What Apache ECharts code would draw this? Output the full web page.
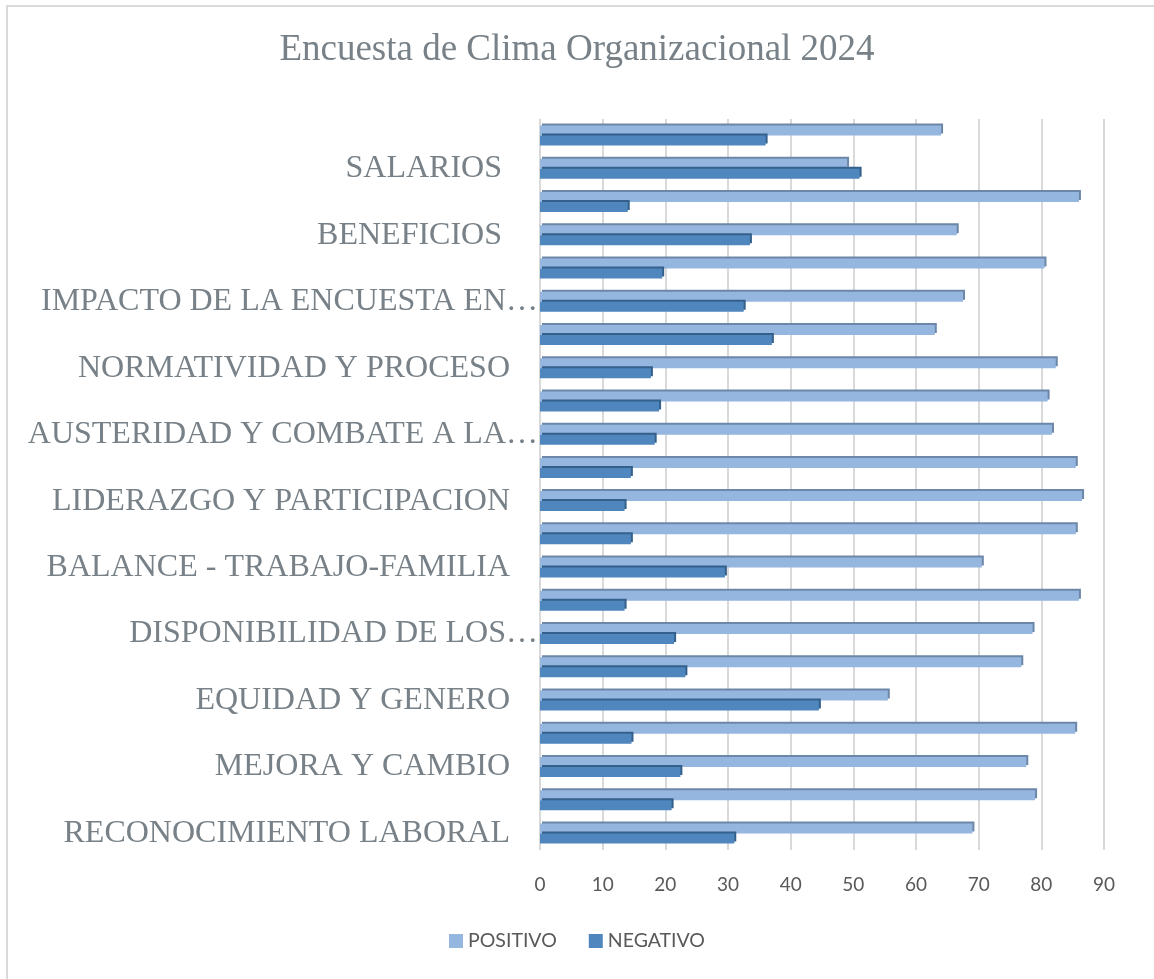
<!DOCTYPE html>
<html>
<head>
    <meta charset="utf-8">
    <title>Encuesta de Clima Organizacional 2024</title>
    <script src="https://cdn.jsdelivr.net/npm/echarts@6/dist/echarts.min.js"></script>
    <style>
        html, body { margin: 0; padding: 0; background: #fff; }
    </style>
</head>
<body>
<div id="main" style="width: 1154px;height:979px;"></div>

<script type="text/javascript">
    // categorias de abajo hacia arriba (solo se ve una de cada dos)
    var categorias = [
        'RECONOCIMIENTO LABORAL',
        'CAPACITACION ESPECIALIZADA Y DESARROLLO',
        'MEJORA Y CAMBIO',
        'CALIDAD DE VIDA LABORAL',
        'EQUIDAD Y GENERO',
        'COMUNICACION',
        'DISPONIBILIDAD DE LOS…',
        'CALIDAD Y ORIENTACION AL USUARIO',
        'BALANCE - TRABAJO-FAMILIA',
        'COLABORACION Y TRABAJO EN EQUIPO',
        'LIDERAZGO Y PARTICIPACION',
        'IDENTIDAD CON LA INSTITUCION Y VALORES',
        'AUSTERIDAD Y COMBATE A LA…',
        'ENFOQUE A RESULTADOS Y PRODUCTIVIDAD',
        'NORMATIVIDAD Y PROCESO',
        'PROFESIONALIZACION',
        'IMPACTO DE LA ENCUESTA EN…',
        'TRABAJO A DISTANCIA',
        'BENEFICIOS ',
        'CONDICIONES DE TRABAJO',
        'SALARIOS ',
        'SATISFACCION GENERAL'
    ];
    var positivo = [69, 79, 77.6, 85.4, 55.5, 76.8, 78.6, 86, 70.5, 85.5, 86.5,
                    85.5, 81.7, 81, 82.3, 63, 67.5, 80.5, 66.5, 86, 49, 64];
    var negativo = [31, 21, 22.4, 14.6, 44.5, 23.2, 21.4, 13.5, 29.5, 14.5, 13.5,
                    14.5, 18.3, 19, 17.7, 37, 32.5, 19.5, 33.5, 14, 51, 36];
    var ticksX = [0, 10, 20, 30, 40, 50, 60, 70, 80, 90];

    var myChart = echarts.init(document.getElementById('main'));

    var option = {
        backgroundColor: '#ffffff',
        animation: false,
        title: {
            text: 'Encuesta de Clima Organizacional 2024',
            left: 'center',
            top: 27,
            textStyle: {
                fontFamily: 'Liberation Serif',
                fontSize: 37,
                fontWeight: 'normal',
                color: '#778187'
            }
        },
        legend: {
            data: ['POSITIVO', 'NEGATIVO'],
            bottom: 23,
            left: 'center',
            itemWidth: 14,
            itemHeight: 14,
            itemGap: 32,
            icon: 'rect',
            textStyle: { fontFamily: 'Lato', fontSize: 19.5, color: '#595959' }
        },
        graphic: [{
            // solo se ven los bordes superior e izquierdo del marco
            type: 'rect',
            shape: { x: 7, y: 6, width: 1160, height: 990 },
            style: { fill: 'none', stroke: '#d9d9d9', lineWidth: 2 },
            silent: true
        }],
        grid: { left: 540, right: 50, top: 119, bottom: 129 },
        xAxis: {
            type: 'value',
            min: ticksX[0],
            max: ticksX[ticksX.length - 1],
            interval: 10,
            axisLine: { show: false },
            axisTick: { show: false },
            axisLabel: { margin: 25, fontFamily: 'Lato', fontSize: 19, color: '#595959' },
            splitLine: { lineStyle: { color: '#d9d9d9', width: 2 } }
        },
        yAxis: {
            type: 'category',
            data: categorias,
            axisTick: { show: false },
            axisLine: { lineStyle: { color: '#d9d9d9', width: 1 } },
            axisLabel: {
                interval: 1,
                margin: 2,
                fontFamily: 'Liberation Serif',
                fontSize: 32,
                color: '#778187',
                // las etiquetas cortadas con "…" llegan casi hasta el eje
                formatter: function (v) {
                    return v.slice(-1) === '…' ? '{c|' + v + '}' : '{n|' + v + '}';
                },
                rich: {
                    n: { padding: [0, 28, 0, 0] },
                    c: { padding: [0, 0, 0, 0] }
                }
            }
        },
        series: [{
            name: 'POSITIVO',
            type: 'bar',
            data: positivo,
            barWidth: 10,
            barGap: '0%',
            itemStyle: {
                color: '#94b6df',
                shadowColor: '#6d87a8',
                shadowOffsetX: 2,
                shadowOffsetY: -2,
                shadowBlur: 0
            }
        }, {
            name: 'NEGATIVO',
            type: 'bar',
            data: negativo,
            barWidth: 10,
            itemStyle: {
                color: '#4e86bd',
                shadowColor: '#35608c',
                shadowOffsetX: 2,
                shadowOffsetY: -2,
                shadowBlur: 0
            }
        }]
    };

    myChart.setOption(option);
</script>
</body>
</html>
